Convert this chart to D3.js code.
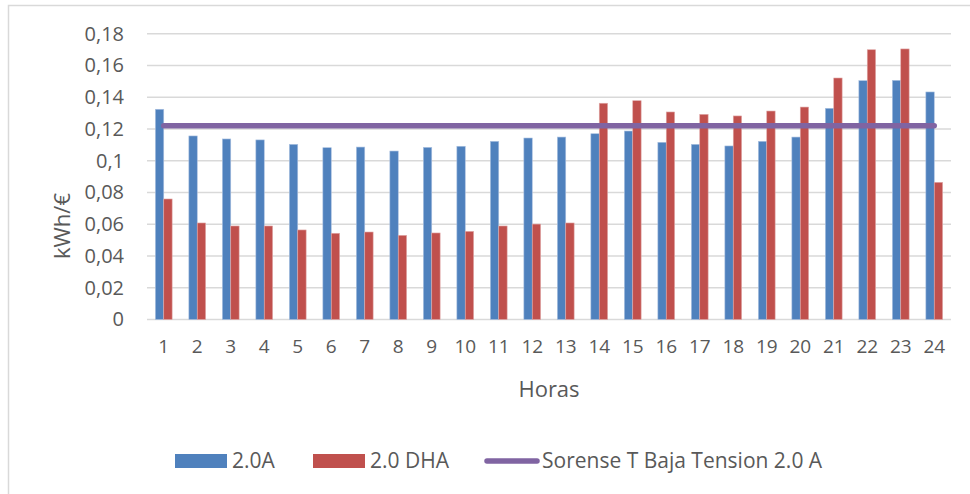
<!DOCTYPE html>
<html>
<head>
<meta charset="utf-8">
<script src="https://cdn.jsdelivr.net/npm/d3@7"></script>
<style>
  body { margin: 0; background: #fff; }
  text { font-family: "Open Sans", sans-serif; fill: #595959; }
</style>
</head>
<body>
<div id="chart"></div>
<script>
// data
var horas = ['1','2','3','4','5','6','7','8','9','10','11','12','13','14','15','16','17','18','19','20','21','22','23','24'];
var tarifa20A = [0.1324, 0.1156, 0.1137, 0.1131, 0.1103, 0.1082, 0.1086, 0.1061, 0.1084, 0.1091, 0.1122, 0.1143,
                 0.1149, 0.1170, 0.1187, 0.1116, 0.1103, 0.1093, 0.1122, 0.1149, 0.1330, 0.1504, 0.1506, 0.1433];
var tarifa20DHA = [0.0759, 0.0608, 0.0589, 0.0589, 0.0564, 0.0543, 0.0551, 0.0530, 0.0545, 0.0555, 0.0589, 0.0601,
                   0.0608, 0.1362, 0.1378, 0.1307, 0.1292, 0.1282, 0.1313, 0.1338, 0.1521, 0.1699, 0.1704, 0.0864];
var sorense = [0.122, 0.122, 0.122, 0.122, 0.122, 0.122, 0.122, 0.122, 0.122, 0.122, 0.122, 0.122,
               0.122, 0.122, 0.122, 0.122, 0.122, 0.122, 0.122, 0.122, 0.122, 0.122, 0.122, 0.122];
var yTicks = [0, 0.02, 0.04, 0.06, 0.08, 0.1, 0.12, 0.14, 0.16, 0.18];
var seriesNames = ['2.0A', '2.0 DHA', 'Sorense T Baja Tension 2.0 A'];

var width = 970, height = 494;
var plotLeft = 147, plotRight = 951, plotTop = 33.7, plotBottom = 319.5;

var colors = { blue: '#4F81BD', red: '#C0504D', purple: '#8064A2' };

var svg = d3.select('#chart').append('svg')
    .attr('width', width)
    .attr('height', height);

// chart frame (only left and top edges visible)
svg.append('rect')
    .attr('x', 8.5).attr('y', 5.5)
    .attr('width', 1000).attr('height', 600)
    .attr('fill', 'none')
    .attr('stroke', '#d9d9d9')
    .attr('stroke-width', 1.5);

var xScale = d3.scaleBand().domain(horas).range([plotLeft, plotRight]).padding(0);
var inner = d3.scaleBand().domain(['a', 'b']).range([0, xScale.bandwidth()])
    .paddingInner(0).paddingOuter(1);
var yScale = d3.scaleLinear().domain([0, 0.18]).range([plotBottom, plotTop]);

var fmt = function (d) { return d === 0 ? '0' : String(+d.toFixed(2)).replace('.', ','); };

// grid
svg.append('g').selectAll('line')
    .data(yTicks)
    .enter().append('line')
    .attr('x1', plotLeft).attr('x2', plotRight)
    .attr('y1', function (d) { return yScale(d); })
    .attr('y2', function (d) { return yScale(d); })
    .attr('stroke', '#d9d9d9')
    .attr('stroke-width', 1.5);

// y axis
var yAxis = d3.axisLeft(yScale).tickValues(yTicks).tickFormat(fmt).tickSize(0).tickPadding(0);
var yg = svg.append('g').attr('transform', 'translate(124,0)').call(yAxis);
yg.select('.domain').remove();
yg.selectAll('text')
    .style('font-family', '"Open Sans", sans-serif')
    .style('font-size', '20px')
    .attr('fill', '#595959');

// x axis
var xAxis = d3.axisBottom(xScale).tickSize(0).tickPadding(0);
var xg = svg.append('g').attr('transform', 'translate(0,' + 339 + ')').call(xAxis);
xg.select('.domain').remove();
xg.selectAll('text')
    .style('font-family', '"Open Sans", sans-serif')
    .style('font-size', '19px')
    .attr('fill', '#595959');

// bars
var barG = svg.append('g');
barG.selectAll('.blue')
    .data(tarifa20A)
    .enter().append('rect')
    .attr('x', function (d, i) { return xScale(horas[i]) + inner('a'); })
    .attr('width', inner.bandwidth())
    .attr('y', function (d) { return yScale(d); })
    .attr('height', function (d) { return plotBottom - yScale(d); })
    .attr('fill', colors.blue)
    .attr('stroke', '#a9c0e0')
    .attr('stroke-width', 0.6);

barG.selectAll('.red')
    .data(tarifa20DHA)
    .enter().append('rect')
    .attr('x', function (d, i) { return xScale(horas[i]) + inner('b'); })
    .attr('width', inner.bandwidth())
    .attr('y', function (d) { return yScale(d); })
    .attr('height', function (d) { return plotBottom - yScale(d); })
    .attr('fill', colors.red)
    .attr('stroke', '#e0a9a8')
    .attr('stroke-width', 0.6);

// line
var line = d3.line()
    .x(function (d, i) { return xScale(horas[i]) + xScale.bandwidth() / 2; })
    .y(function (d) { return yScale(d); });

svg.append('path')
    .datum(sorense)
    .attr('d', line)
    .attr('fill', 'none')
    .attr('stroke', colors.purple)
    .attr('stroke-width', 5.5)
    .attr('stroke-linecap', 'round');

// axis titles
svg.append('text')
    .attr('x', 549).attr('y', 397)
    .attr('text-anchor', 'middle')
    .style('font-size', '22px')
    .text('Horas');

svg.append('text')
    .attr('transform', 'translate(70,226) rotate(-90)')
    .attr('text-anchor', 'middle')
    .style('font-size', '22px')
    .text('kWh/€');

// legend
var legend = svg.append('g');
legend.append('rect').attr('x', 175).attr('y', 454).attr('width', 52).attr('height', 14).attr('fill', colors.blue);
legend.append('text').attr('x', 232).attr('y', 468).style('font-size', '21px').text(seriesNames[0]);
legend.append('rect').attr('x', 313).attr('y', 454).attr('width', 52).attr('height', 14).attr('fill', colors.red);
legend.append('text').attr('x', 370).attr('y', 468).style('font-size', '21px').text(seriesNames[1]);
legend.append('line').attr('x1', 487).attr('x2', 537).attr('y1', 461).attr('y2', 461)
    .attr('stroke', colors.purple).attr('stroke-width', 5.5).attr('stroke-linecap', 'round');
legend.append('text').attr('x', 542).attr('y', 468).style('font-size', '21px').text(seriesNames[2]);
</script>
</body>
</html>
